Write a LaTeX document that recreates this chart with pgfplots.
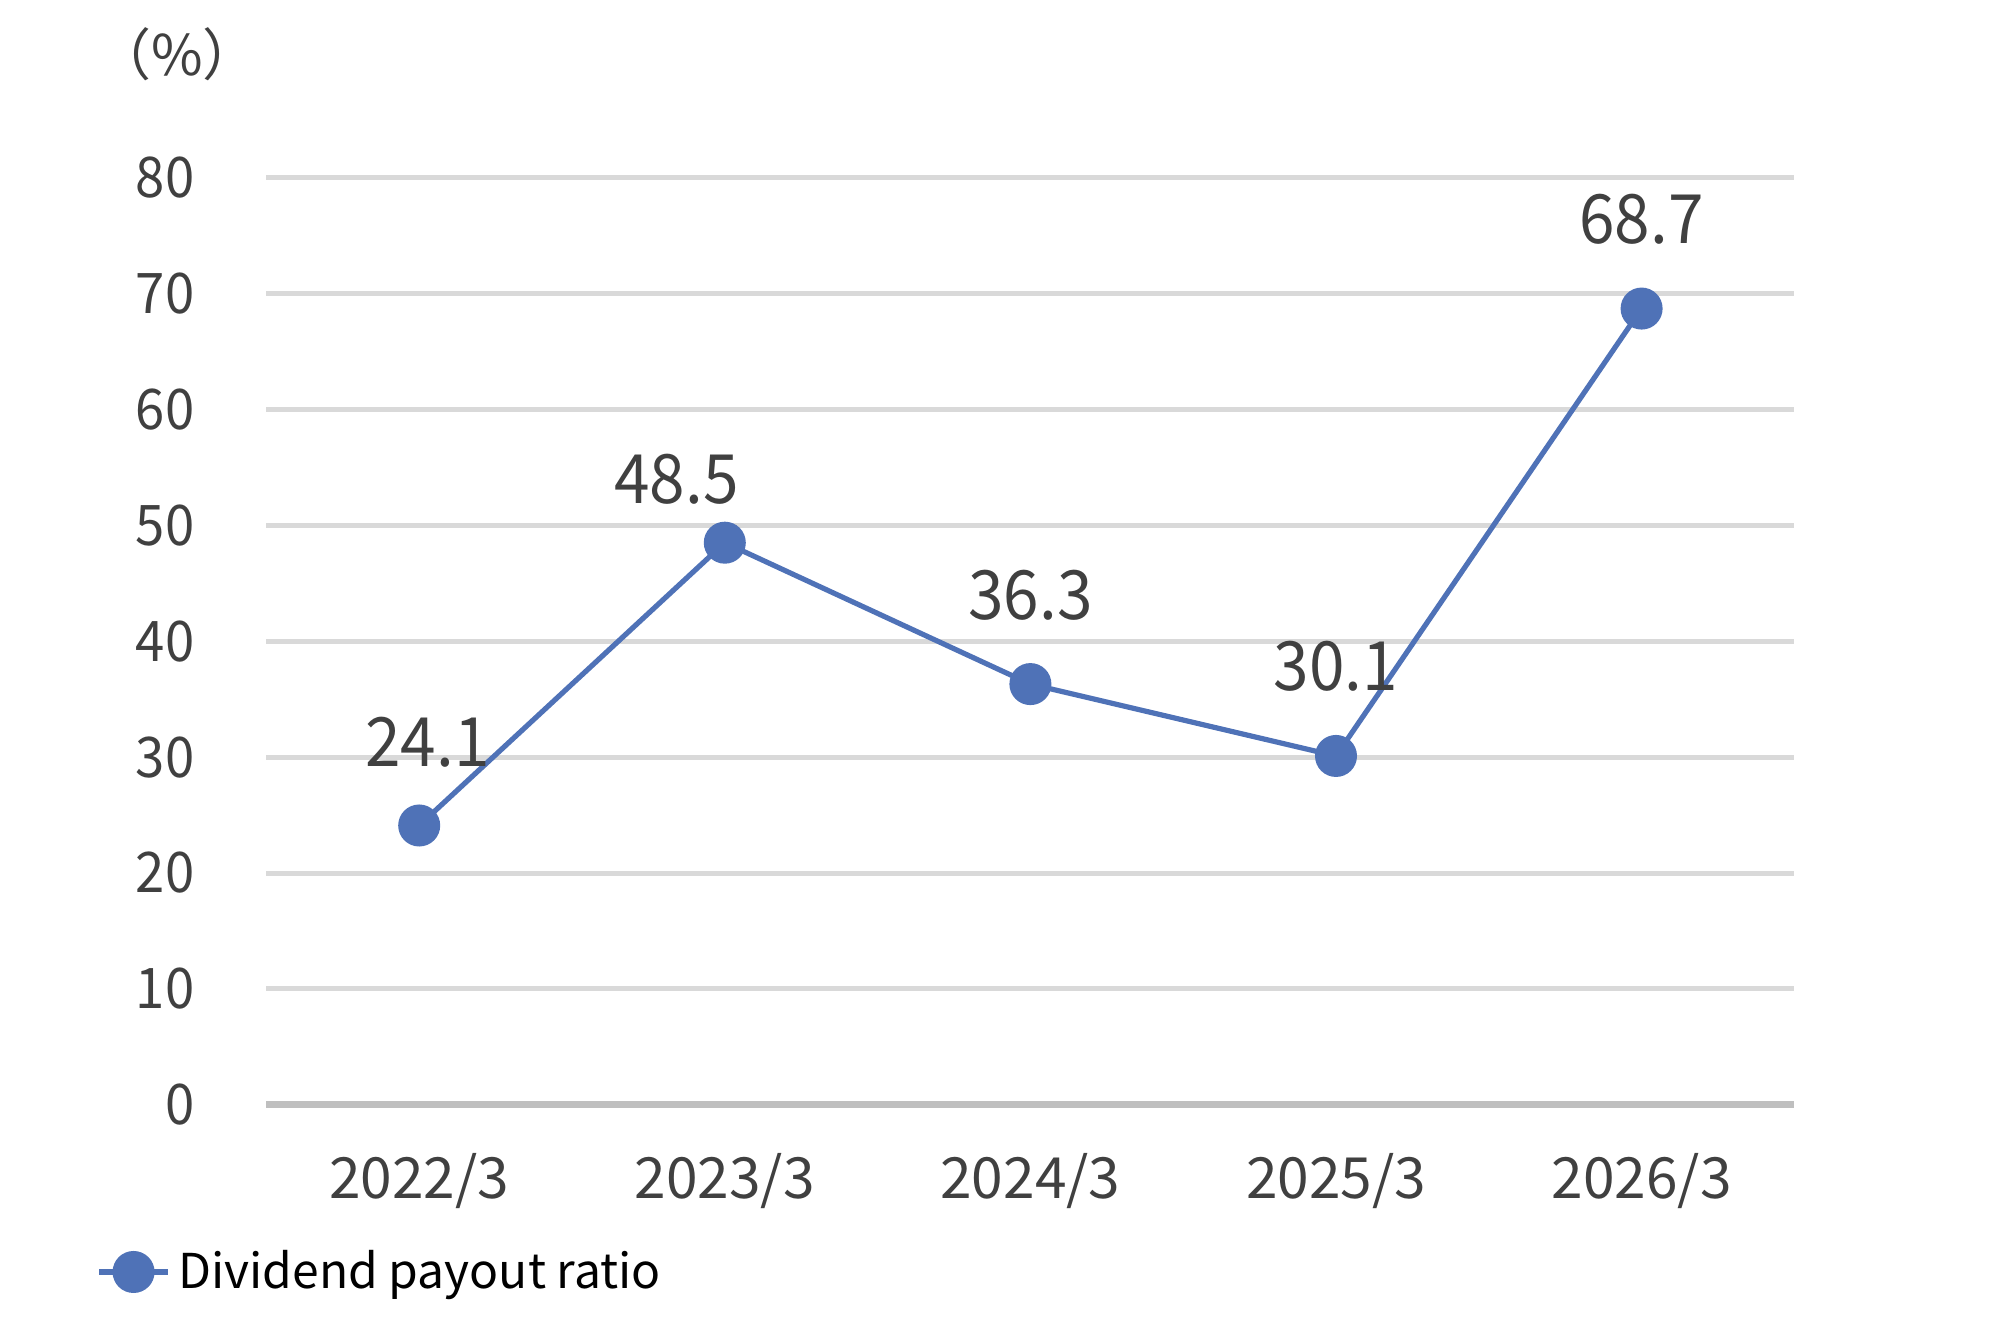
\documentclass[border=0pt]{standalone}
\usepackage{fontspec}
\setmainfont{Noto Sans CJK JP}
\newfontfamily\numfont[FakeStretch=0.94]{Noto Sans CJK JP}
\usepackage{pgfplots}
\pgfplotsset{compat=1.18}
\definecolor{serie}{RGB}{79,114,183}
\definecolor{gridc}{RGB}{217,217,217}
\definecolor{axisc}{RGB}{191,191,191}
\definecolor{txt}{RGB}{64,64,64}
\begin{document}
\begin{tikzpicture}
\path[use as bounding box] (-66.6pt,-59.3pt) rectangle (433.4pt,276.2pt);
\begin{axis}[
  scale only axis,
  width=382pt, height=231.8pt,
  xmin=-0.5, xmax=4.5, ymin=0, ymax=80,
  xtick={0,1,2,3,4},
  xticklabels={2022/3,2023/3,2024/3,2025/3,2026/3},
  ytick={0,10,20,30,40,50,60,70,80},
  /pgf/number format/assume math mode=true,
  axis x line*=bottom, axis y line*=left,
  x axis line style={draw=axisc, line width=1.75pt},
  y axis line style={draw=none},
  major tick length=0pt,
  ymajorgrids, grid style={draw=gridc, line width=1.25pt},
  yticklabel style={font=\numfont\fontsize{14}{16}\selectfont, text=txt, anchor=east, xshift=-14.5pt},
  xticklabel style={font=\fontsize{14.2}{16}\selectfont, text=txt, anchor=center, yshift=-19pt},
  legend style={draw=none, fill=none, at={(-0.1115,-0.1803)}, anchor=west, inner sep=0pt, font=\fontsize{12}{14}\selectfont, text=black},
  clip=false,
]
\addplot[color=serie, line width=1.3pt, mark=*, mark size=4.6pt, mark options={fill=serie, draw=serie}]
  coordinates {(0,24.1) (1,48.5) (2,36.3) (3,30.1) (4,68.7)};
\addlegendentry{Dividend payout ratio}
\begin{scope}[every node/.style={font=\numfont\fontsize{17}{20}\selectfont, text=txt, anchor=center}]
\node[xshift=2.1pt, yshift=20.7pt] at (axis cs:0,24.1) {24.1};
\node[xshift=-12.1pt, yshift=15.9pt] at (axis cs:1,48.5) {48.5};
\node[yshift=22.3pt] at (axis cs:2,36.3) {36.3};
\node[yshift=22.3pt] at (axis cs:3,30.1) {30.1};
\node[yshift=22.3pt] at (axis cs:4,68.7) {68.7};
\end{scope}
\end{axis}
\node[font=\fontsize{14}{16}\selectfont, text=txt] at (-22.4pt,262.7pt) {（\%）};
\end{tikzpicture}
\end{document}
